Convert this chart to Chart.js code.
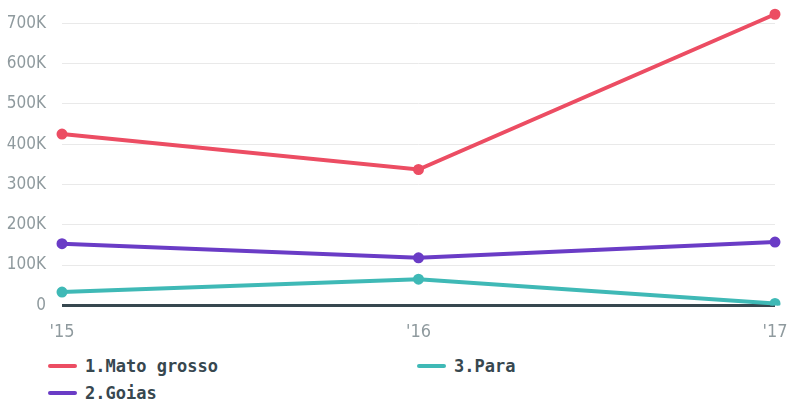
<!DOCTYPE html>
<html>
<head>
<meta charset="utf-8">
<script src="https://cdn.jsdelivr.net/npm/chart.js@4"></script>
<style>
    html, body { margin: 0; padding: 0; background: #fff; }
    #wrap { position: relative; width: 788px; height: 351px; }
    #legend { position: relative; width: 788px; height: 51px; font-family: "DejaVu Sans Mono", monospace; font-weight: bold; font-size: 17px; color: #37474f; }
    .item { position: absolute; display: flex; align-items: center; white-space: nowrap; }
    .swatch { display: inline-block; width: 29px; height: 4px; border-radius: 2px; margin-right: 8px; }
</style>
</head>
<body>
<div id="wrap"><canvas id="chart"></canvas></div>
<div id="legend"></div>
<script>
// Data
const years = ["'15", "'16", "'17"];
const matoGrosso = [425000, 337000, 722000];
const goias = [153000, 118000, 157000];
const para = [33000, 65000, 5000];
const seriesNames = ['1.Mato grosso', '2.Goias', '3.Para'];
const seriesColors = ['#ec4d63', '#6a3cc6', '#3fb9b6'];
const yTicks = [0, 100000, 200000, 300000, 400000, 500000, 600000, 700000];

// Legend laid out in two columns like the original
const legendPos = [[48, 5], [48, 32], [417, 5]];
const legend = document.getElementById('legend');
seriesNames.forEach((name, i) => {
    const item = document.createElement('div');
    item.className = 'item';
    item.style.left = legendPos[i][0] + 'px';
    item.style.top = legendPos[i][1] + 'px';
    item.innerHTML = `<span class="swatch" style="background:${seriesColors[i]}"></span>${name}`;
    legend.appendChild(item);
});

function makeDataset(i, values) {
    return {
        label: seriesNames[i],
        data: values,
        borderColor: seriesColors[i],
        backgroundColor: seriesColors[i],
        borderWidth: 4,
        pointRadius: 4,
        pointBorderWidth: 3,
        pointBackgroundColor: seriesColors[i],
        tension: 0
    };
}

const ctx = document.getElementById('chart').getContext('2d');
new Chart(ctx, {
    type: 'line',
    data: {
        labels: years,
        datasets: [makeDataset(0, matoGrosso), makeDataset(1, goias), makeDataset(2, para)]
    },
    options: {
        responsive: true,
        maintainAspectRatio: false,
        animation: false,
        layout: { padding: 0 },
        plugins: {
            legend: { display: false },
            tooltip: { enabled: false }
        },
        scales: {
            x: {
                offset: false,
                afterFit: function (axis) {
                    // let the last label run off the edge like the original
                    axis.paddingRight = 13;
                },
                grid: { display: false },
                border: { display: false },
                ticks: {
                    padding: 8,
                    color: '#8f9a9e',
                    font: { family: '"DejaVu Sans Condensed", "DejaVu Sans"', size: 18 }
                }
            },
            y: {
                min: 0,
                max: 740000,
                afterBuildTicks: function (axis) {
                    axis.ticks = yTicks.map(v => ({ value: v }));
                },
                afterFit: function (axis) {
                    axis.width = 62;
                    axis.paddingTop = 2;
                },
                grid: {
                    drawTicks: false,
                    color: c => c.tick && c.tick.value === 0 ? '#37474f' : '#e9e9e9',
                    lineWidth: c => c.tick && c.tick.value === 0 ? 3 : 1
                },
                border: { display: false },
                ticks: {
                    padding: 16,
                    color: '#8f9a9e',
                    font: { family: '"DejaVu Sans Condensed", "DejaVu Sans"', size: 17 },
                    callback: v => v === 0 ? '0' : (v / 1000) + 'K'
                }
            }
        }
    }
});
</script>
</body>
</html>
